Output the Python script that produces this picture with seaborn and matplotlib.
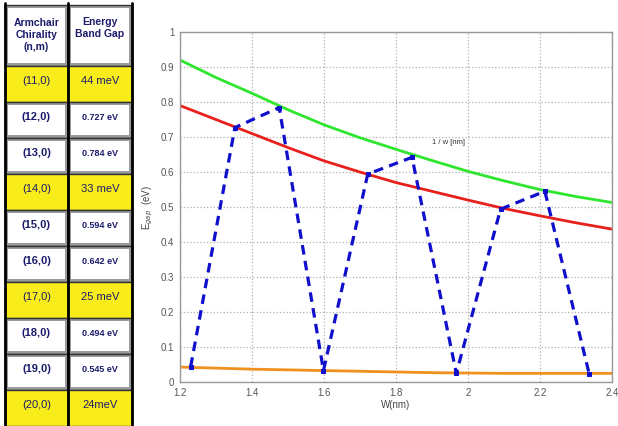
import matplotlib
matplotlib.use("Agg")
import matplotlib.pyplot as plt
from matplotlib.patches import Rectangle
import seaborn as sns
import pandas as pd

# table data
chirality = ["(11,0)", "(12,0)", "(13,0)", "(14,0)", "(15,0)",
             "(16,0)", "(17,0)", "(18,0)", "(19,0)", "(20,0)"]
band_gap = ["44 meV", "0.727 eV", "0.784 eV", "33 meV", "0.594 eV",
            "0.642 eV", "25 meV", "0.494 eV", "0.545 eV", "24meV"]
metallic = [True, False, False, True, False, False, True, False, False, True]

# blue dashed series (ribbon width vs gap)
w_pts = [1.23, 1.353, 1.476, 1.599, 1.722, 1.845, 1.968, 2.091, 2.214, 2.337]
e_pts = [0.044, 0.727, 0.784, 0.033, 0.594, 0.642, 0.025, 0.494, 0.545, 0.024]

# envelope curves
w_grid = [1.2, 1.3, 1.4, 1.5, 1.6, 1.7, 1.8, 1.9, 2.0, 2.1, 2.2, 2.3, 2.4]
green = [0.92, 0.87, 0.825, 0.778, 0.735, 0.698, 0.665, 0.633, 0.602, 0.575, 0.55, 0.53, 0.513]
red = [0.79, 0.75, 0.71, 0.67, 0.632, 0.60, 0.57, 0.545, 0.52, 0.496, 0.475, 0.455, 0.437]
orange = [0.043, 0.040, 0.037, 0.035, 0.033, 0.031, 0.029, 0.027, 0.026, 0.025, 0.025, 0.025, 0.025]

sns.set_style("whitegrid")
plt.rcParams["font.family"] = ["Liberation Sans", "DejaVu Sans"]

fig = plt.figure(figsize=(6.18, 4.26), dpi=100)

# ---- table drawn in pixel coords ----
tb = fig.add_axes([0, 0, 1, 1])
tb.set_xlim(0, 618)
tb.set_ylim(426, 0)
tb.axis("off")

navy = "#1b1b6b"
yellow = "#f8ec1a"


def cell(x0, x1, y0, y1, fill):
    if fill == "yellow":
        tb.add_patch(Rectangle((x0, y0), x1 - x0, y1 - y0, facecolor=yellow,
                               edgecolor="#333333", lw=1))
    else:
        tb.add_patch(Rectangle((x0, y0), x1 - x0, y1 - y0, facecolor="#9a9a9a",
                               edgecolor="#333333", lw=1))
        tb.add_patch(Rectangle((x0 + 3, y0 + 3), x1 - x0 - 6, y1 - y0 - 6,
                               facecolor="white", edgecolor="none"))


cell(5, 68, 5, 66, "white")
cell(68, 132, 5, 66, "white")
tb.text(36.5, 35, "Armchair\nChirality\n(n,m)", ha="center", va="center",
        fontsize=7.5, fontweight="bold", color=navy, linespacing=1.3)
tb.text(100, 28, "Energy\nBand Gap", ha="center", va="center",
        fontsize=7.5, fontweight="bold", color=navy, linespacing=1.3)

row_h = 36
for i, (c, g, m) in enumerate(zip(chirality, band_gap, metallic)):
    y0 = 66 + i * row_h
    y1 = y0 + row_h
    fill = "yellow" if m else "white"
    cell(5, 68, y0, y1, fill)
    cell(68, 132, y0, y1, fill)
    weight = "normal" if m else "bold"
    tb.text(36.5, y0 + 15, c, ha="center", va="center", fontsize=8,
            fontweight=weight, color=navy)
    tb.text(100, y0 + 15, g, ha="center", va="center", fontsize=8 if m else 6.5,
            fontweight=weight, color=navy)

for x in [5, 68, 132]:
    tb.plot([x, x], [3, 426], color="black", lw=2)

# ---- main plot ----
ax = fig.add_axes([0.291, 0.103, 0.699, 0.822])

df_curves = pd.DataFrame({"w": w_grid, "green": green, "red": red, "orange": orange})
sns.lineplot(data=df_curves, x="w", y="green", ax=ax, color="#2ee62e", lw=2)
sns.lineplot(data=df_curves, x="w", y="red", ax=ax, color="#e8201c", lw=2)
sns.lineplot(data=df_curves, x="w", y="orange", ax=ax, color="#f0901e", lw=2)

df_pts = pd.DataFrame({"w": w_pts, "e": e_pts})
sns.lineplot(data=df_pts, x="w", y="e", ax=ax, color="#1010cc", lw=2.3,
             linestyle=(0, (3, 2)), marker="s", markersize=3,
             markeredgecolor="#1010cc", sort=False)

ax.text(1.9, 0.68, "1 / w [nm]", fontsize=5.5, color="#333333")

ax.set_xlim(1.2, 2.4)
ax.set_ylim(0, 1)
ax.set_xticks([1.2, 1.4, 1.6, 1.8, 2.0, 2.2, 2.4])
ax.set_xticklabels(["1.2", "1.4", "1.6", "1.8", "2", "2.2", "2.4"])
ax.set_yticks([0, 0.1, 0.2, 0.3, 0.4, 0.5, 0.6, 0.7, 0.8, 0.9, 1])
ax.set_yticklabels(["0", "0.1", "0.2", "0.3", "0.4", "0.5", "0.6", "0.7", "0.8", "0.9", "1"])
ax.tick_params(labelsize=7, colors="#555555", length=2, pad=2)
ax.set_xlabel("W(nm)", fontsize=7, color="#444444", labelpad=2)
ax.set_ylabel("E$_{gap}$  (eV)", fontsize=7, color="#444444", labelpad=4)
ax.grid(True, color="#b0b0b0", linestyle=":", lw=0.9)
for s in ax.spines.values():
    s.set_color("#999999")
    s.set_linewidth(1)

plt.savefig("out.png", dpi=100)
